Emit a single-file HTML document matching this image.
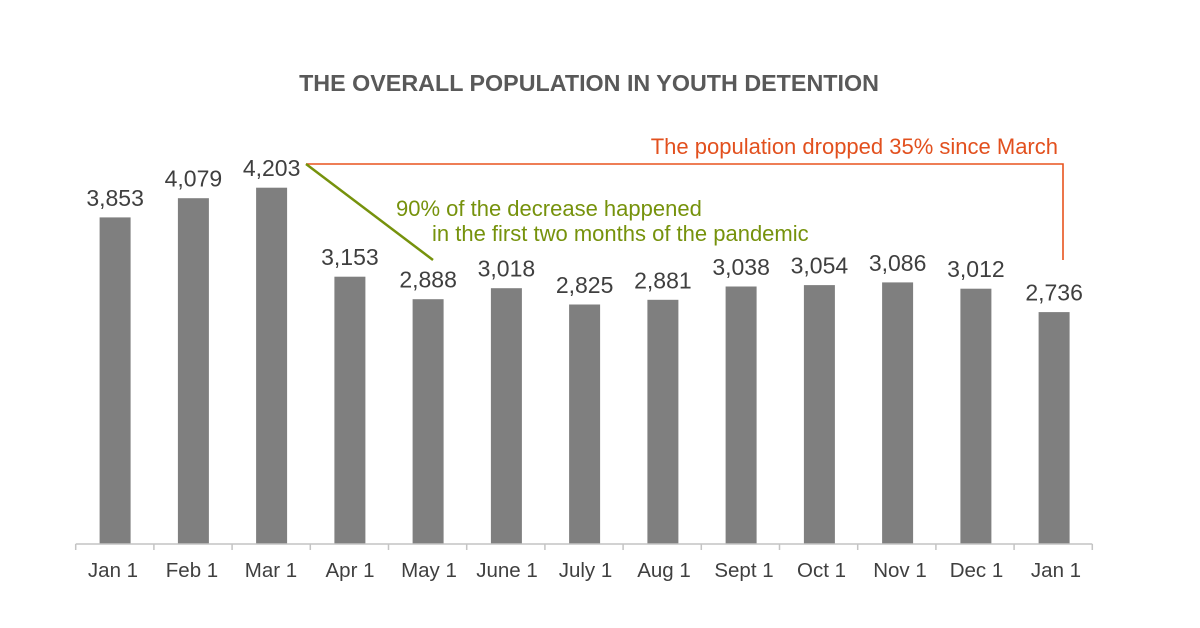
<!DOCTYPE html>
<html>
<head>
<meta charset="utf-8">
<style>
  html, body { margin:0; padding:0; background:#ffffff; }
  svg { display:block; }
  text { font-family: "Liberation Sans", Arial, sans-serif; }
</style>
</head>
<body>
<svg width="1200" height="628" viewBox="0 0 1200 628" xmlns="http://www.w3.org/2000/svg">
  <rect width="1200" height="628" fill="#ffffff"/>

  <!-- Title -->
  <text x="589" y="91" text-anchor="middle" font-size="23.3" font-weight="bold" fill="#595959">THE OVERALL POPULATION IN YOUTH DETENTION</text>

  <!-- Bars -->
  <g fill="#7f7f7f">
    <rect x="99.6"  y="217.4" width="31" height="326.6"/>
    <rect x="177.9" y="198.2" width="31" height="345.8"/>
    <rect x="256.1" y="187.7" width="31" height="356.3"/>
    <rect x="334.4" y="276.7" width="31" height="267.3"/>
    <rect x="412.6" y="299.2" width="31" height="244.8"/>
    <rect x="490.9" y="288.2" width="31" height="255.8"/>
    <rect x="569.1" y="304.5" width="31" height="239.5"/>
    <rect x="647.4" y="299.8" width="31" height="244.2"/>
    <rect x="725.6" y="286.5" width="31" height="257.5"/>
    <rect x="803.9" y="285.1" width="31" height="258.9"/>
    <rect x="882.1" y="282.4" width="31" height="261.6"/>
    <rect x="960.4" y="288.7" width="31" height="255.3"/>
    <rect x="1038.6" y="312.1" width="31" height="231.9"/>
  </g>

  <!-- Axis -->
  <g stroke="#c4c4c4" stroke-width="1.5" fill="none">
    <line x1="75.7" y1="544" x2="1092.3" y2="544"/>
    <line x1="75.7" y1="544" x2="75.7" y2="550"/>
    <line x1="153.9" y1="544" x2="153.9" y2="550"/>
    <line x1="232.1" y1="544" x2="232.1" y2="550"/>
    <line x1="310.3" y1="544" x2="310.3" y2="550"/>
    <line x1="388.5" y1="544" x2="388.5" y2="550"/>
    <line x1="466.7" y1="544" x2="466.7" y2="550"/>
    <line x1="544.9" y1="544" x2="544.9" y2="550"/>
    <line x1="623.1" y1="544" x2="623.1" y2="550"/>
    <line x1="701.3" y1="544" x2="701.3" y2="550"/>
    <line x1="779.5" y1="544" x2="779.5" y2="550"/>
    <line x1="857.7" y1="544" x2="857.7" y2="550"/>
    <line x1="935.9" y1="544" x2="935.9" y2="550"/>
    <line x1="1014.1" y1="544" x2="1014.1" y2="550"/>
    <line x1="1092.3" y1="544" x2="1092.3" y2="550"/>
  </g>

  <!-- Value labels -->
  <g font-size="23" fill="#3f3f3f" text-anchor="middle">
    <text x="115.1" y="206">3,853</text>
    <text x="193.4" y="186.7">4,079</text>
    <text x="271.6" y="176.2">4,203</text>
    <text x="349.9" y="265.2">3,153</text>
    <text x="428.1" y="287.7">2,888</text>
    <text x="506.4" y="276.7">3,018</text>
    <text x="584.6" y="293">2,825</text>
    <text x="662.9" y="288.3">2,881</text>
    <text x="741.1" y="275">3,038</text>
    <text x="819.4" y="273.6">3,054</text>
    <text x="897.6" y="270.9">3,086</text>
    <text x="975.9" y="277.2">3,012</text>
    <text x="1054.1" y="300.6">2,736</text>
  </g>

  <!-- Category labels -->
  <g font-size="20.5" fill="#3f3f3f" text-anchor="middle">
    <text x="113" y="577">Jan 1</text>
    <text x="192" y="577">Feb 1</text>
    <text x="271" y="577">Mar 1</text>
    <text x="350" y="577">Apr 1</text>
    <text x="429" y="577">May 1</text>
    <text x="507" y="577">June 1</text>
    <text x="585.5" y="577">July 1</text>
    <text x="664" y="577">Aug 1</text>
    <text x="744" y="577">Sept 1</text>
    <text x="821.5" y="577">Oct 1</text>
    <text x="900" y="577">Nov 1</text>
    <text x="976.5" y="577">Dec 1</text>
    <text x="1056" y="577">Jan 1</text>
  </g>

  <!-- Orange annotation -->
  <polyline points="306,164 1063,164 1063,260" fill="none" stroke="#e8541e" stroke-width="1.6"/>
  <text x="1058" y="154" text-anchor="end" font-size="22" fill="#e2501e">The population dropped 35% since March</text>

  <!-- Green annotation -->
  <line x1="306" y1="164" x2="433" y2="260" stroke="#76920c" stroke-width="2.5"/>
  <text x="396" y="216" font-size="22" fill="#76920c">90% of the decrease happened</text>
  <text x="432" y="241" font-size="22" fill="#76920c">in the first two months of the pandemic</text>
</svg>
</body>
</html>
